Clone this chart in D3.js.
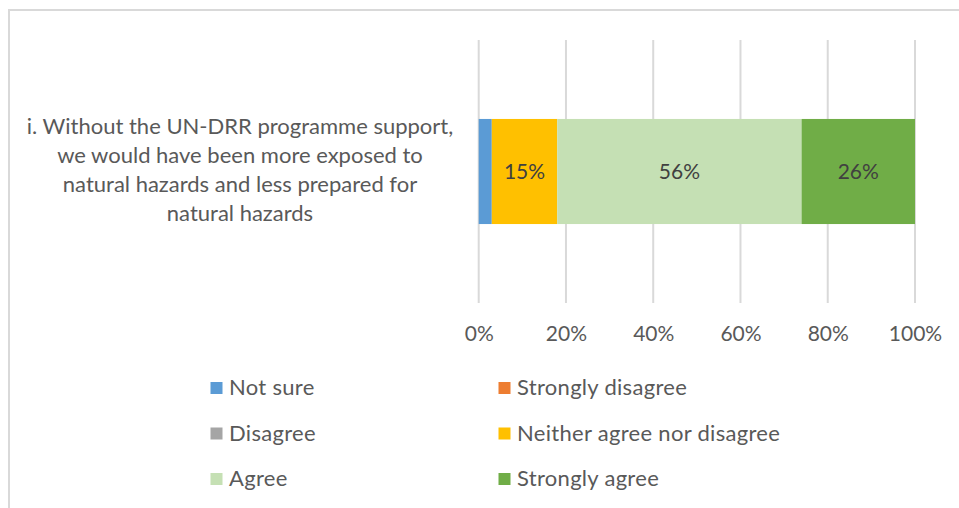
<!DOCTYPE html>
<html>
<head>
<meta charset="utf-8">
<script src="https://cdn.jsdelivr.net/npm/d3@7"></script>
<style>
  html, body { margin: 0; padding: 0; background: #fff; }
  svg { display: block; font-family: Lato, "Open Sans", sans-serif; }
</style>
</head>
<body>
<svg id="chart" width="959" height="508"></svg>
<script>
// Survey statement (wrapped over four lines)
const categoryLines = [
  "i. Without the UN-DRR programme support,",
  "we would have been more exposed to",
  "natural hazards and less prepared for",
  "natural hazards"
];
const category = categoryLines.join(" ");

// Response categories, in stacking order, and their shares (%)
const seriesNames = ["Not sure", "Strongly disagree", "Disagree",
                     "Neither agree nor disagree", "Agree", "Strongly agree"];
const seriesValues = [3, 0, 0, 15, 56, 26];
const seriesColors = ["#5B9BD5", "#ED7D31", "#A5A5A5", "#FFC000", "#C5E0B4", "#70AD47"];

const tickValues = [0, 20, 40, 60, 80, 100];

const svg = d3.select("#chart");

// Chart area frame
svg.append("rect")
  .attr("x", 9).attr("y", 10)
  .attr("width", 960).attr("height", 510)
  .attr("fill", "none")
  .attr("stroke", "#d9d9d9")
  .attr("stroke-width", 2);

const x = d3.scaleLinear().domain([0, 100]).range([478.7, 915]);
const y = d3.scaleBand().domain([category]).range([40, 303]).padding(0.429);

// Vertical gridlines
svg.append("g")
  .selectAll("line")
  .data(tickValues)
  .join("line")
  .attr("x1", d => x(d)).attr("x2", d => x(d))
  .attr("y1", 40).attr("y2", 303)
  .attr("stroke", "#d9d9d9")
  .attr("stroke-width", 2);

// Stacked segments
let acc = 0;
const segments = seriesValues.map((v, i) => {
  const s = { name: seriesNames[i], value: v, start: acc, color: seriesColors[i] };
  acc += v;
  return s;
});

svg.append("g")
  .selectAll("rect")
  .data(segments.filter(d => d.value > 0))
  .join("rect")
  .attr("x", d => x(d.start))
  .attr("width", d => x(d.start + d.value) - x(d.start))
  .attr("y", y(category))
  .attr("height", y.bandwidth())
  .attr("fill", d => d.color);

// Value labels inside the wider segments
svg.append("g")
  .selectAll("text")
  .data(segments.filter(d => d.value >= 5))
  .join("text")
  .attr("x", d => x(d.start + d.value / 2))
  .attr("y", y(category) + y.bandwidth() / 2)
  .attr("dy", "0.36em")
  .attr("text-anchor", "middle")
  .attr("font-size", 21)
  .attr("fill", "#404040")
  .text(d => d.value + "%");

// X axis tick labels
const xAxis = d3.axisBottom(x)
  .tickValues(tickValues)
  .tickFormat(d => d + "%")
  .tickSize(0)
  .tickPadding(0);

const axisG = svg.append("g")
  .attr("transform", "translate(0,326)")
  .call(xAxis);
axisG.select(".domain").remove();
axisG.selectAll("text")
  .attr("font-family", "Lato, 'Open Sans', sans-serif")
  .attr("font-size", 21)
  .attr("fill", "#595959");

// Category label
const catText = svg.append("text")
  .attr("text-anchor", "middle")
  .attr("font-size", 22)
  .attr("fill", "#595959");
catText.selectAll("tspan")
  .data(categoryLines)
  .join("tspan")
  .attr("x", 240)
  .attr("y", (d, i) => 134 + i * 29)
  .text(d => d);

// Legend, two columns
const legendCols = [210.5, 498.5];
const legendRows = [395, 440.5, 486];
const legend = svg.append("g")
  .selectAll("g")
  .data(segments)
  .join("g")
  .attr("transform", (d, i) => `translate(${legendCols[i % 2]},${legendRows[Math.floor(i / 2)]})`);

legend.append("rect")
  .attr("x", 0).attr("y", -13)
  .attr("width", 12).attr("height", 12)
  .attr("fill", d => d.color);

legend.append("text")
  .attr("x", 18.5)
  .attr("y", 0)
  .attr("font-size", 22)
  .attr("letter-spacing", 0.3)
  .attr("fill", "#595959")
  .text(d => d.name);
</script>
</body>
</html>
